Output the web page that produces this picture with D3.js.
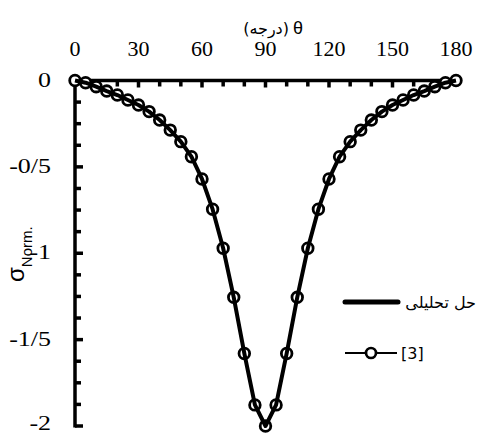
<!DOCTYPE html>
<html>
<head>
<meta charset="utf-8">
<script src="https://cdn.jsdelivr.net/npm/d3@7"></script>
<style>
  body { margin: 0; background: #fff; }
  svg { display: block; }
</style>
</head>
<body>
<svg id="chart" width="478" height="434"></svg>
<script>
// theta in degrees, every 5 deg
const theta = d3.range(0, 181, 5);

// normalized stress
const analyticSigma = [0, -0.013, -0.036, -0.061, -0.084, -0.113, -0.142, -0.18, -0.229, -0.287,
  -0.354, -0.441, -0.57, -0.745, -0.971, -1.255, -1.58, -1.878, -2.0,
  -1.878, -1.58, -1.255, -0.971, -0.745, -0.57, -0.441, -0.354, -0.287, -0.229,
  -0.18, -0.142, -0.113, -0.084, -0.061, -0.036, -0.013, 0];
const ref3Sigma = [0, -0.013, -0.036, -0.061, -0.084, -0.113, -0.142, -0.18, -0.229, -0.287,
  -0.354, -0.441, -0.57, -0.745, -0.971, -1.255, -1.58, -1.878, -2.0,
  -1.878, -1.58, -1.255, -0.971, -0.745, -0.57, -0.441, -0.354, -0.287, -0.229,
  -0.18, -0.142, -0.113, -0.084, -0.061, -0.036, -0.013, 0];

const xTickValues = [0, 30, 60, 90, 120, 150, 180];
const yTickValues = [0, -0.5, -1, -1.5, -2];
const yTickLabels = ['0', '-0/5', '-1', '-1/5', '-2'];

const xTitle = '(درجه)';
const legendNames = ['حل تحلیلی', '[3]'];

const svg = d3.select('#chart');

const x = d3.scaleLinear().domain([0, 180]).range([75, 456]);
const y = d3.scaleLinear().domain([0, -2]).range([80.5, 426]);

const serif = '"Liberation Serif", "Times New Roman", serif';
const arabic = '"DejaVu Sans", sans-serif';

// minor ticks
const xMinor = d3.range(0, 181, 10);
const yMinor = d3.range(0, -2.001, -0.125);

svg.append('g').selectAll('line')
    .data(xMinor.filter(d => d > 0 && d < 180))
    .join('line')
    .attr('x1', d => x(d)).attr('x2', d => x(d))
    .attr('y1', y(0)).attr('y2', d => y(0) + (d % 30 === 0 ? 7 : 6))
    .attr('stroke', '#000').attr('stroke-width', 3.5);

svg.append('g').selectAll('line')
    .data(yMinor.filter(d => d < 0))
    .join('line')
    .attr('y1', d => y(d)).attr('y2', d => y(d))
    .attr('x1', x(0)).attr('x2', d => x(0) + (Math.abs(d * 2 - Math.round(d * 2)) < 1e-6 ? 8 : 6))
    .attr('stroke', '#000').attr('stroke-width', 3.5);

// axis lines
svg.append('line')
    .attr('x1', x(0) - 1.75).attr('x2', x(180) + 2)
    .attr('y1', y(0)).attr('y2', y(0))
    .attr('stroke', '#000').attr('stroke-width', 3.5);
svg.append('line')
    .attr('x1', x(0)).attr('x2', x(0))
    .attr('y1', y(0)).attr('y2', y(-2) + 1.5)
    .attr('stroke', '#000').attr('stroke-width', 3.5);

// tick labels
svg.append('g').selectAll('text')
    .data(xTickValues)
    .join('text')
    .attr('x', d => x(d)).attr('y', 56)
    .attr('text-anchor', 'middle')
    .style('font-family', serif).style('font-size', '22px')
    .text(d => d);

// y labels are a bit stretched sideways in the original
svg.append('g').selectAll('text')
    .data(yTickValues)
    .join('text')
    .attr('transform', d => `translate(51,${Math.min(y(d) + 6, 430)}) scale(1.18,1)`)
    .attr('text-anchor', 'end')
    .style('font-family', serif).style('font-size', '22px')
    .text((d, i) => yTickLabels[i]);

// x title
svg.append('text')
    .attr('x', 293).attr('y', 34)
    .style('font-family', '"Liberation Sans", Arial, sans-serif').style('font-size', '18px')
    .text('θ');
svg.append('text')
    .attr('x', 289).attr('y', 34)
    .attr('text-anchor', 'end')
    .style('font-family', arabic).style('font-size', '16px')
    .text(xTitle);

// y title
const yTitle = svg.append('text')
    .attr('transform', 'translate(24,282) rotate(-90)')
    .style('font-family', '"Liberation Sans", Arial, sans-serif');
yTitle.append('tspan').style('font-size', '24px').text('σ');
yTitle.append('tspan').attr('dy', 8).style('font-size', '15px').text('Norm.');

// series [3] : thin line + open circles
const pts3 = theta.map((t, i) => [t, ref3Sigma[i]]);
const ptsA = theta.map((t, i) => [t, analyticSigma[i]]);
const line = d3.line().x(d => x(d[0])).y(d => y(d[1]));

svg.append('path')
    .attr('d', line(pts3))
    .attr('fill', 'none').attr('stroke', '#000').attr('stroke-width', 2);

svg.append('g').selectAll('circle')
    .data(pts3)
    .join('circle')
    .attr('cx', d => x(d[0])).attr('cy', d => y(d[1]))
    .attr('r', 5.3)
    .attr('fill', '#fff').attr('stroke', '#000').attr('stroke-width', 2.8);

// analytic solution : thick line
svg.append('path')
    .attr('d', line(ptsA))
    .attr('fill', 'none').attr('stroke', '#000').attr('stroke-width', 4)
    .attr('stroke-linejoin', 'round');

// legend
svg.append('line')
    .attr('x1', 345).attr('x2', 398).attr('y1', 302).attr('y2', 302)
    .attr('stroke', '#000').attr('stroke-width', 5).attr('stroke-linecap', 'round');
svg.append('text')
    .attr('x', 476).attr('y', 308)
    .attr('text-anchor', 'end')
    .style('font-family', arabic).style('font-size', '16px')
    .text(legendNames[0]);

svg.append('line')
    .attr('x1', 345).attr('x2', 397).attr('y1', 353).attr('y2', 353)
    .attr('stroke', '#000').attr('stroke-width', 2);
svg.append('circle')
    .attr('cx', 371).attr('cy', 353).attr('r', 5)
    .attr('fill', '#fff').attr('stroke', '#000').attr('stroke-width', 2.7);
svg.append('text')
    .attr('x', 401).attr('y', 359)
    .style('font-family', arabic).style('font-size', '16px')
    .text(legendNames[1]);
</script>
</body>
</html>
